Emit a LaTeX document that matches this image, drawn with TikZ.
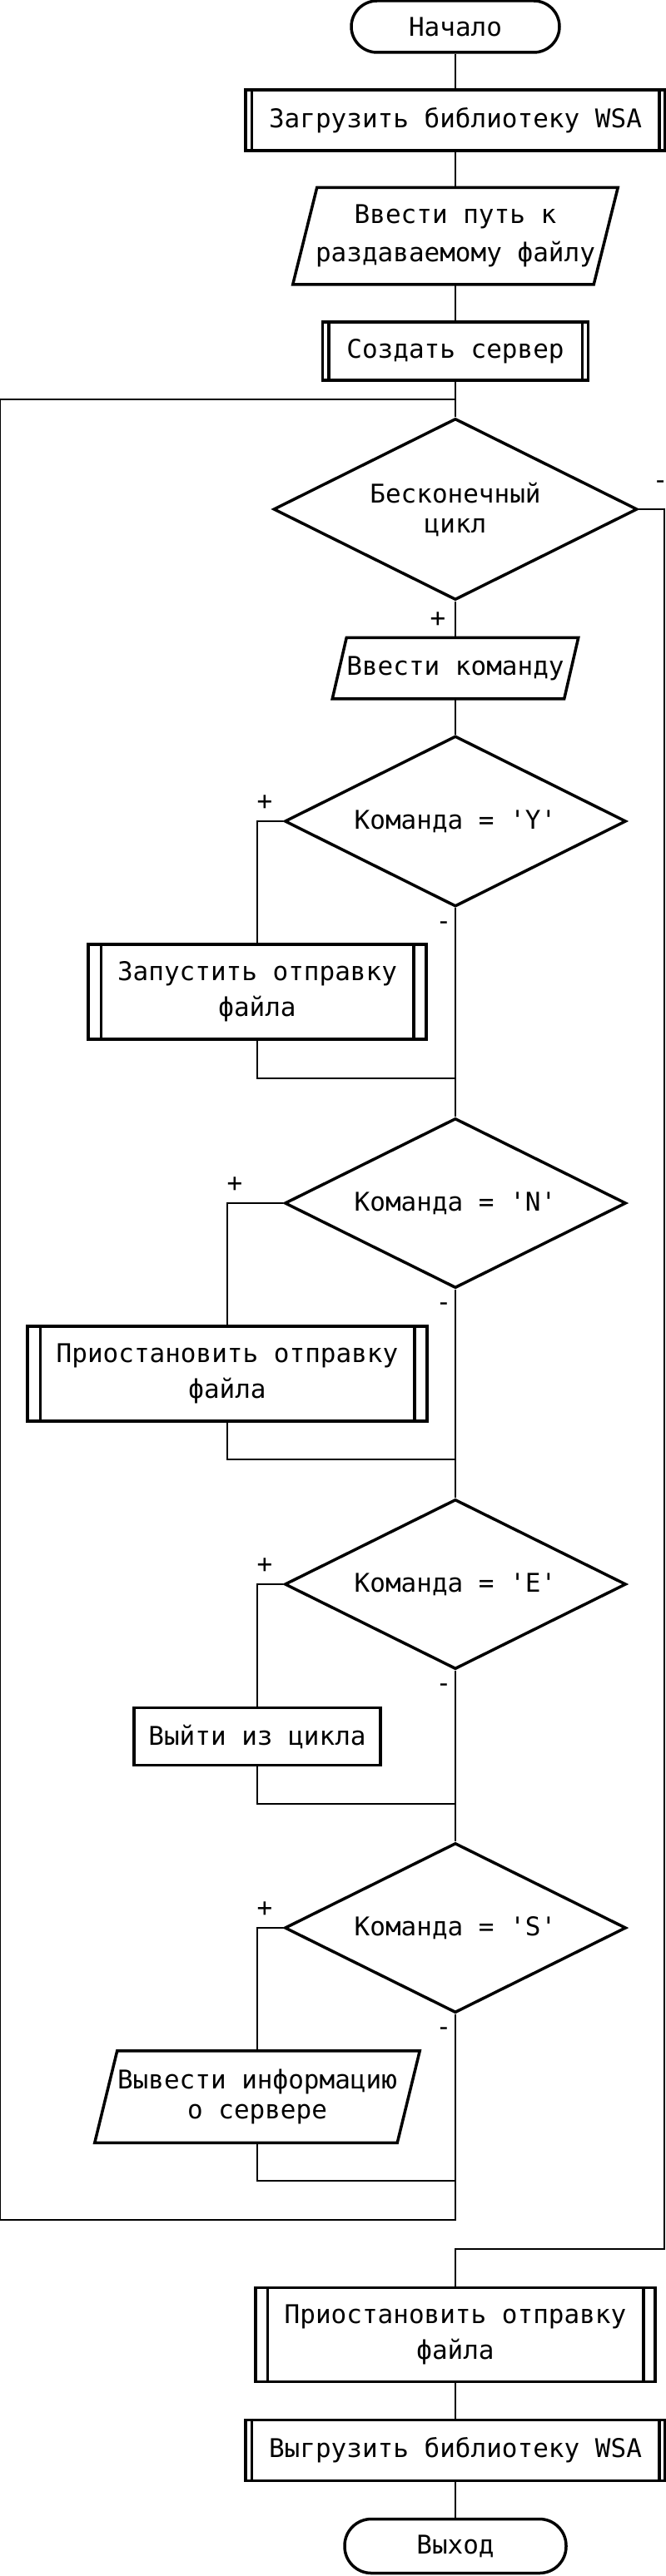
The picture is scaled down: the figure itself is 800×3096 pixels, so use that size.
\documentclass[tikz,border=0pt]{standalone}
\usepackage{fontspec}
\newfontfamily\blockfont{DejaVu Sans Mono}
\usetikzlibrary{shapes.geometric,calc}

\tikzset{
  block/.style={font=\blockfont\fontsize{31}{36}\selectfont, align=center, inner sep=0pt, line width=3.5pt},
  term/.style={block, draw, rounded corners=31pt},
  proc/.style={block, draw, rectangle},
  io/.style={block, rectangle},
  cond/.style={block, draw, diamond, aspect=2},
  sign/.style={font=\blockfont\fontsize{31}{36}\selectfont, inner sep=0pt},
  line/.style={line width=1.8pt}
}

\begin{document}
\begin{tikzpicture}[x=1pt, y=-1pt]
\useasboundingbox (0,0) rectangle (800,3096);

\node[term, minimum width=250, minimum height=62] (start) at (547,32) {Начало};
\node[proc, minimum width=504, minimum height=73] (loadlib) at (547,144.5) {Загрузить библиотеку WSA};
\node[io, minimum width=387, minimum height=113] (inpath) at (547,283.5) {Ввести путь к\\[10pt]раздаваемому файлу};
\node[proc, minimum width=319, minimum height=70] (server) at (547,422) {Создать сервер};
\node[cond, minimum width=437, minimum height=218] (loop) at (547,612) {Бесконечный\\цикл};
\node[io, minimum width=292, minimum height=70] (incmd) at (547,803) {Ввести команду};
\node[cond, minimum width=410, minimum height=205] (qY) at (547,987) {Команда = 'Y'};
\node[proc, minimum width=406, minimum height=114] (send) at (309,1192) {Запустить отправку\\[7pt]файла};
\node[cond, minimum width=410, minimum height=204] (qN) at (547,1446) {Команда = 'N'};
\node[proc, minimum width=480, minimum height=114] (pause) at (273,1651) {Приостановить отправку\\[7pt]файла};
\node[cond, minimum width=410, minimum height=204] (qE) at (547,1904) {Команда = 'E'};
\node[proc, minimum width=296, minimum height=69] (quit) at (309,2087) {Выйти из цикла};
\node[cond, minimum width=410, minimum height=204] (qS) at (547,2317) {Команда = 'S'};
\node[io, minimum width=387, minimum height=107] (info) at (309,2520) {Вывести информацию\\о сервере};
\node[proc, minimum width=480, minimum height=113] (pause2) at (547,2806) {Приостановить отправку\\[7pt]файла};
\node[proc, minimum width=504, minimum height=73] (unload) at (547,2945) {Выгрузить библиотеку WSA};
\node[term, minimum width=266, minimum height=65, rounded corners=32pt] (finish) at (547,3060) {Выход};

\foreach \n/\d in {loadlib/9,server/9,send/17,pause/17,pause2/16,unload/9}
  \draw[line width=3.5pt] ([xshift=\d pt]\n.north west) -- ([xshift=\d pt]\n.south west)
    ([xshift=-\d pt]\n.north east) -- ([xshift=-\d pt]\n.south east);
\foreach \n/\s in {inpath/29,incmd/17,info/27}
  \draw[line width=3.5pt] ([xshift=\s pt]\n.north west) -- (\n.north east)
    -- ([xshift=-\s pt]\n.south east) -- (\n.south west) -- cycle;

\coordinate (back) at (547,480);
\coordinate (lefttop) at (0,480);
\coordinate (loopend) at (547,2668);
\coordinate (exitR) at (798,2703);
\coordinate (jY) at (547,1296);
\coordinate (jN) at (547,1754);
\coordinate (jE) at (547,2168);
\coordinate (jS) at (547,2621);

\draw[line] (start) -- (loadlib) -- (inpath) -- (server) -- (loop);
\draw[line] (loop) -- (incmd) -- (qY) -- (qN) -- (qE) -- (qS) -- (loopend) -| (lefttop) -- (back);
\draw[line] (loop.east) -| (exitR) -| (pause2);
\draw[line] (pause2) -- (unload) -- (finish);

\draw[line] (qY) -| (send);
\draw[line] (send) |- (jY);
\draw[line] (qN) -| (pause);
\draw[line] (pause) |- (jN);
\draw[line] (qE) -| (quit);
\draw[line] (quit) |- (jE);
\draw[line] (qS) -| (info);
\draw[line] (info) |- (jS);

\node[sign] (yesL) at ([shift={(-21,22)}]loop.south) {+};
\node[sign] (noL) at ([shift={(26,-29)}]loop.east) {-};
\node[sign] (yesY) at ($(qY.west -| send.north)+(9,-22)$) {+};
\node[sign] (noY) at ([shift={(-14,21)}]qY.south) {-};
\node[sign] (yesN) at ($(qN.west -| pause.north)+(9,-22)$) {+};
\node[sign] (noN) at ([shift={(-14,21)}]qN.south) {-};
\node[sign] (yesE) at ($(qE.west -| quit.north)+(9,-22)$) {+};
\node[sign] (noE) at ([shift={(-14,21)}]qE.south) {-};
\node[sign] (yesS) at ($(qS.west -| info.north)+(9,-22)$) {+};
\node[sign] (noS) at ([shift={(-14,21)}]qS.south) {-};
\end{tikzpicture}
\end{document}
